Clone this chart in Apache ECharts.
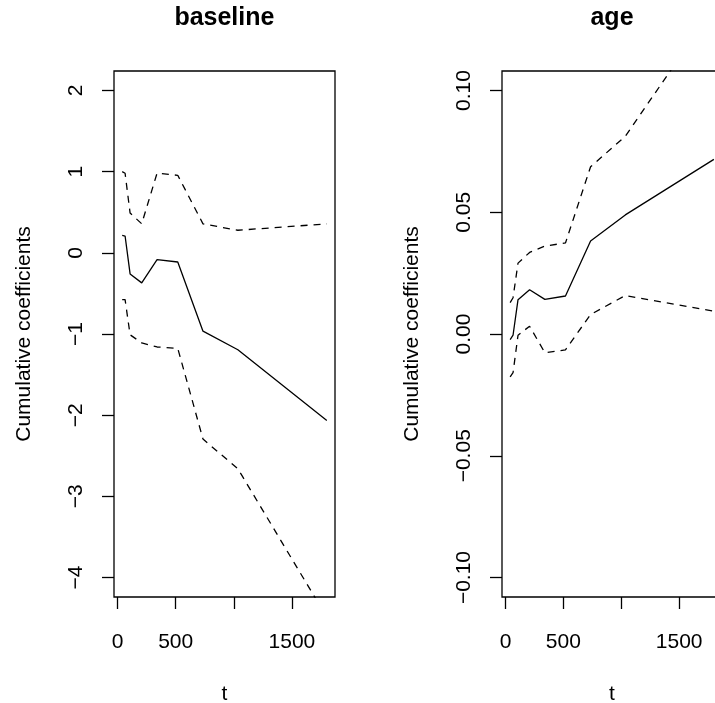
<!DOCTYPE html>
<html><head><meta charset="utf-8">
<script src="https://cdn.jsdelivr.net/npm/echarts@6/dist/echarts.min.js"></script>
<style>html,body{margin:0;padding:0;background:#fff}#c{width:715px;height:703px}</style>
</head><body><div id="c"></div>
<script>
// ---- data ----
const times = [40, 65, 108, 208, 340, 518, 735, 1035, 1800];
const baselineEst   = [0.215, 0.207, -0.26, -0.37, -0.085, -0.113, -0.965, -1.194, -2.066];
const baselineUpper = [1.0, 0.98, 0.49, 0.358, 0.982, 0.955, 0.357, 0.278, 0.357];
const baselineLower = [-0.577, -0.577, -1.01, -1.11, -1.16, -1.177, -2.295, -2.66, -4.49];
const ageEst   = [-0.0023, -0.0005, 0.0141, 0.0182, 0.0142, 0.0156, 0.0382, 0.0489, 0.0717];
const ageUpper = [0.0129, 0.0149, 0.0291, 0.0335, 0.0361, 0.0374, 0.0687, 0.0812, 0.134];
const ageLower = [-0.0176, -0.0159, -0.0005, 0.0032, -0.0077, -0.0065, 0.0080, 0.0158, 0.0094];
const xTickValues = [0, 500, 1000, 1500];
const xTickLabels = [0, 500, 1500];
const baselineTicks = [-4, -3, -2, -1, 0, 1, 2];
const ageTicks = [-0.10, -0.05, 0, 0.05, 0.10];
const panelTitles = ['baseline', 'age'];
const xTitle = 't';
const yTitle = 'Cumulative coefficients';

// ---- chart ----
const FONT = "'Liberation Sans', Arial, Helvetica, sans-serif";
const pair = (ys) => times.map((t, i) => [t, ys[i]]);
const minus = (s) => s.replace('-', '\u2212');
const chart = echarts.init(document.getElementById('c'), null, {renderer: 'canvas'});

function xAxisDef(gi) {
  return {
    type: 'value', gridIndex: gi, min: -30.4, max: 1870.4,
    splitLine: {show: false}, axisLine: {show: false, onZero: false},
    axisTick: {show: true, customValues: xTickValues, length: 12, lineStyle: {color: '#000', width: 1.3}},
    axisLabel: {customValues: xTickLabels, margin: 35, fontSize: 21, color: '#000', fontFamily: FONT,
      formatter: v => String(v)},
    name: xTitle, nameLocation: 'middle', nameGap: 87,
    nameTextStyle: {fontSize: 21, color: '#000', fontFamily: FONT}
  };
}
function yAxisDef(gi, mn, mx, ticks, fmt) {
  return {
    type: 'value', gridIndex: gi, min: mn, max: mx,
    splitLine: {show: false}, axisLine: {show: false, onZero: false},
    axisTick: {show: true, customValues: ticks, length: 12, lineStyle: {color: '#000', width: 1.3}},
    axisLabel: {customValues: ticks, rotate: 90, margin: 27, fontSize: 21, color: '#000', fontFamily: FONT,
      formatter: fmt},
    name: yTitle, nameLocation: 'middle', nameGap: 79, nameRotate: 90,
    nameTextStyle: {fontSize: 21, color: '#000', fontFamily: FONT}
  };
}
function line(xi, ys, dashed) {
  return {
    type: 'line', xAxisIndex: xi, yAxisIndex: xi, data: pair(ys), symbol: 'none', clip: true,
    lineStyle: {color: '#000', width: 1.3, type: dashed ? [7, 6] : 'solid'},
    silent: true
  };
}

chart.setOption({
  animation: false,
  backgroundColor: '#fff',
  title: [
    {text: panelTitles[0], left: 224.4, top: 6, textAlign: 'center', padding: 0,
     textStyle: {fontSize: 25, fontWeight: 'bold', color: '#000', fontFamily: FONT}},
    {text: panelTitles[1], left: 612, top: 6, textAlign: 'center', padding: 0,
     textStyle: {fontSize: 25, fontWeight: 'bold', color: '#000', fontFamily: FONT}}
  ],
  grid: [
    {left: 114, top: 71, width: 221, height: 526, show: true, borderColor: '#000', borderWidth: 1.3,
     backgroundColor: 'transparent', containLabel: false, outerBoundsMode: 'none'},
    {left: 502, top: 71, width: 220, height: 526, show: true, borderColor: '#000', borderWidth: 1.3,
     backgroundColor: 'transparent', containLabel: false, outerBoundsMode: 'none'}
  ],
  xAxis: [xAxisDef(0), xAxisDef(1)],
  yAxis: [
    yAxisDef(0, -4.24, 2.24, baselineTicks, v => minus(String(Math.round(v)))),
    yAxisDef(1, -0.108, 0.108, ageTicks, v => minus((Math.abs(v) < 1e-9 ? 0 : v).toFixed(2)))
  ],
  series: [
    line(0, baselineEst, false), line(0, baselineUpper, true), line(0, baselineLower, true),
    line(1, ageEst, false), line(1, ageUpper, true), line(1, ageLower, true)
  ]
});
</script>
</body></html>
